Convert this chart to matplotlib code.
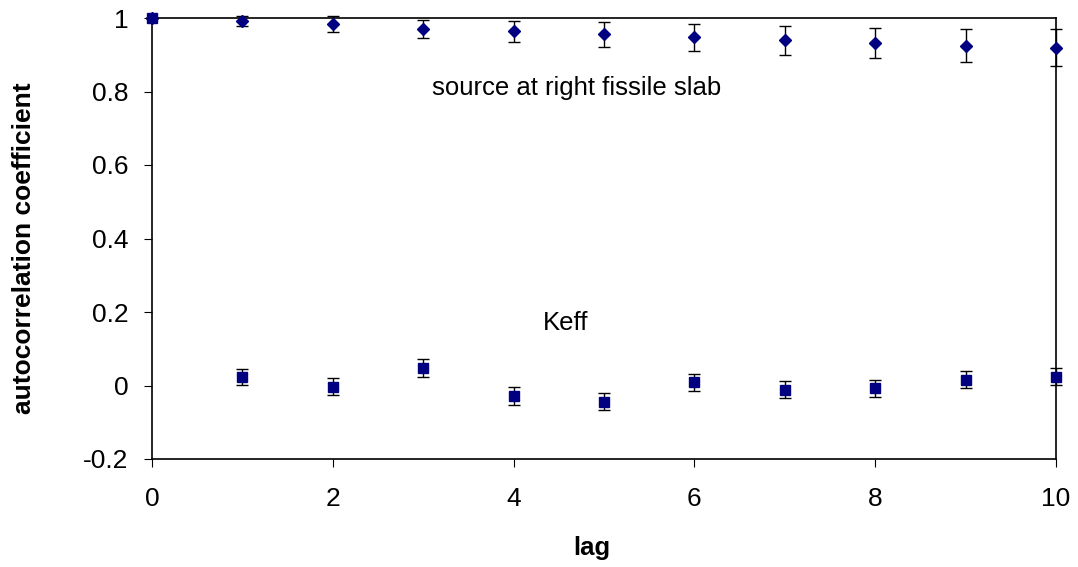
import numpy as np
import matplotlib
matplotlib.use('Agg')
import matplotlib.pyplot as plt

plt.rcParams['font.family'] = ['Liberation Sans', 'DejaVu Sans']

# --- données ---
lag = [0, 1, 2, 3, 4, 5, 6, 7, 8, 9, 10]
src = [1.0, 0.992, 0.984, 0.970, 0.964, 0.956, 0.947, 0.939, 0.931, 0.924, 0.919]
src_err = [0.0, 0.014, 0.022, 0.025, 0.029, 0.034, 0.038, 0.040, 0.041, 0.045, 0.050]
keff = [1.0, 0.024, -0.003, 0.048, -0.028, -0.044, 0.009, -0.011, -0.008, 0.016, 0.024]
keff_err = [0.0, 0.022, 0.024, 0.024, 0.024, 0.024, 0.023, 0.023, 0.023, 0.023, 0.023]

fig = plt.figure(figsize=(10.78, 5.67), dpi=100)
ax = fig.add_axes([152/1078, 1 - 459/567, (1056 - 152)/1078, (459 - 18)/567])

ax.errorbar(lag, src, yerr=src_err, fmt='D', color='#000080', ms=6.5,
            ecolor='black', elinewidth=1, capsize=4, capthick=1, clip_on=False, zorder=3)
ax.errorbar(lag, keff, yerr=keff_err, fmt='s', color='#000080', ms=7,
            ecolor='black', elinewidth=1, capsize=4, capthick=1, clip_on=False, zorder=4)

ax.text(3.1, 0.81, 'source at right fissile slab', fontsize=18.5, va='center')
ax.text(4.32, 0.17, 'Keff', fontsize=18.5, va='center')

ax.set_xlim(0, 10)
ax.set_ylim(-0.2, 1)
ax.set_xticks([0, 2, 4, 6, 8, 10])
ax.set_yticks([-0.2, 0, 0.2, 0.4, 0.6, 0.8, 1])
ax.set_yticklabels(['-0.2', '0', '0.2', '0.4', '0.6', '0.8', '1'])
ax.tick_params(axis='both', direction='out', length=6, labelsize=19, pad=11,
               top=False, right=False)
ax.tick_params(axis='x', pad=14)
for s in ax.spines.values():
    s.set_linewidth(1.2)

ax.set_xlabel('lag', fontsize=18.5, fontweight='bold')
ax.set_ylabel('autocorrelation coefficient', fontsize=19, fontweight='bold')
ax.xaxis.set_label_coords((592 - 152) / 904, -(548 - 459) / 441)
ax.yaxis.set_label_coords(-(152 - 24) / 904, (459 - 248) / 441)
ax.xaxis.label.set_va('center')
ax.yaxis.label.set_va('center')

fig.savefig('out.png', dpi=100)
